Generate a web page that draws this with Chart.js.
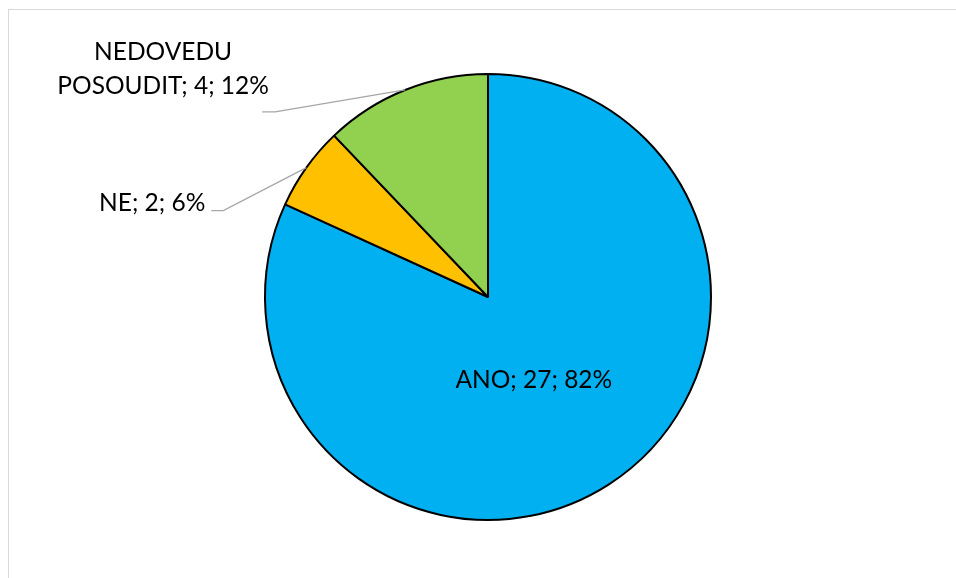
<!DOCTYPE html>
<html>
<head>
<meta charset="utf-8">
<script src="https://cdn.jsdelivr.net/npm/chart.js@4"></script>
<style>
  html, body { margin: 0; padding: 0; background: #fff; }
  #wrap { position: relative; width: 956px; height: 578px; overflow: hidden; }
  #frame { position: absolute; left: 8px; top: 9px; width: 1000px; height: 700px; border: 1px solid #D9D9D9; box-sizing: border-box; }
  canvas { position: absolute; left: 0; top: 0; }
</style>
</head>
<body>
<div id="wrap">
  <div id="frame"></div>
  <canvas id="c" width="956" height="578"></canvas>
</div>
<script>
const categories = ["ANO", "NE", "NEDOVEDU POSOUDIT"];
const labelLines = [["ANO; 27; 82%"], ["NE; 2; 6%"], ["NEDOVEDU", "POSOUDIT; 4; 12%"]];
const values = [27, 2, 4];
const percents = ["82%", "6%", "12%"];
const colors = ["#00B0F0", "#FFC000", "#92D050"];

const FONT = '24.5px Lato, "Open Sans", sans-serif';

const labelPlugin = {
  id: 'pieLabels',
  afterDatasetsDraw(chart) {
    const ctx = chart.ctx;
    const meta = chart.getDatasetMeta(0);
    ctx.save();
    ctx.font = FONT;
    ctx.fillStyle = '#000';
    meta.data.forEach((arc, i) => {
      const p = arc.getProps(['x', 'y', 'startAngle', 'endAngle', 'outerRadius'], true);
      const mid = (p.startAngle + p.endAngle) / 2;
      if (i === 0) {
        const f = 0.38;
        const cx = p.x + Math.cos(mid) * p.outerRadius * f;
        const cy = p.y + Math.sin(mid) * p.outerRadius * f;
        ctx.textAlign = 'center';
        ctx.textBaseline = 'alphabetic';
        ctx.fillText(labelLines[0][0], cx, cy + 20);
        return;
      }
      const ax = p.x + Math.cos(mid) * p.outerRadius;
      const ay = p.y + Math.sin(mid) * p.outerRadius;
      ctx.strokeStyle = '#A6A6A6';
      ctx.lineWidth = 1.3;
      ctx.beginPath();
      if (i === 1) {
        const ex = ax - 83, ey = ay + 43;
        ctx.moveTo(ax, ay); ctx.lineTo(ex, ey); ctx.lineTo(ex - 12, ey);
        ctx.stroke();
        ctx.textAlign = 'right';
        ctx.textBaseline = 'alphabetic';
        ctx.fillText(labelLines[1][0], ex - 18, ey);
      } else {
        const ex = ax - 130, ey = ay + 22;
        ctx.moveTo(ax, ay); ctx.lineTo(ex, ey); ctx.lineTo(ex - 13, ey);
        ctx.stroke();
        ctx.textAlign = 'center';
        ctx.textBaseline = 'alphabetic';
        const tx = ex - 112;
        ctx.fillText(labelLines[2][0], tx, ey - 52);
        ctx.fillText(labelLines[2][1], tx, ey - 18);
      }
    });
    ctx.restore();
  }
};

new Chart(document.getElementById('c'), {
  type: 'pie',
  data: {
    labels: categories,
    datasets: [{
      data: values,
      backgroundColor: colors,
      borderColor: '#000',
      borderWidth: 2,
      radius: 223
    }]
  },
  options: {
    responsive: false,
    animation: false,
    layout: { padding: { left: 265, right: 245, top: 74, bottom: 58 } },
    plugins: { legend: { display: false }, tooltip: { enabled: false } }
  },
  plugins: [labelPlugin]
});
</script>
</body>
</html>
